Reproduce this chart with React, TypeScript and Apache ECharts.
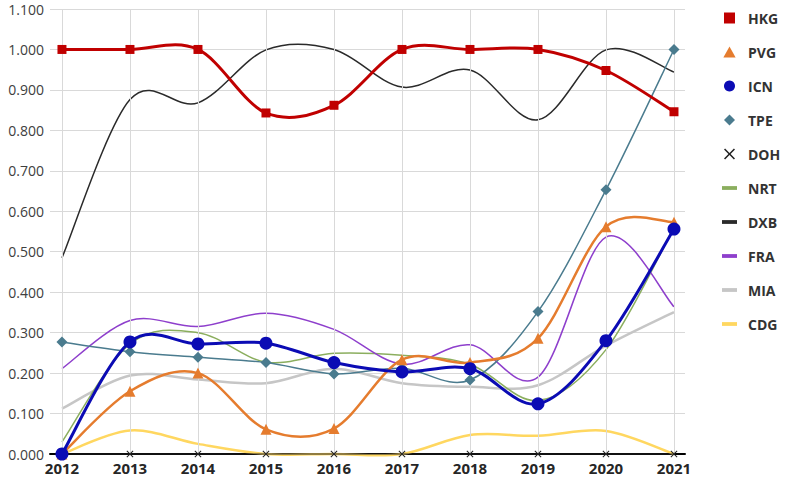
import React, { useEffect, useRef } from "react";
import * as echarts from "echarts";

const years = [2012, 2013, 2014, 2015, 2016, 2017, 2018, 2019, 2020, 2021];
const yTicks = [0, 0.1, 0.2, 0.3, 0.4, 0.5, 0.6, 0.7, 0.8, 0.9, 1.0, 1.1];

const HKG = [1.0, 1.0, 1.0, 0.843, 0.862, 1.0, 1.0, 1.0, 0.948, 0.846];
const PVG = [0.0, 0.155, 0.2, 0.061, 0.063, 0.233, 0.226, 0.286, 0.562, 0.573];
const ICN = [0.0, 0.277, 0.272, 0.274, 0.226, 0.203, 0.211, 0.124, 0.28, 0.556];
const TPE = [0.277, 0.253, 0.239, 0.226, 0.198, 0.212, 0.183, 0.352, 0.653, 1.0];
const DOH = [0, 0, 0, 0, 0, 0, 0, 0, 0, 0];
const NRT = [0.03, 0.272, 0.3, 0.227, 0.249, 0.244, 0.222, 0.132, 0.258, 0.56];
const DXB = [0.485, 0.876, 0.868, 0.999, 1.0, 0.907, 0.949, 0.826, 0.999, 0.944];
const FRA = [0.211, 0.33, 0.315, 0.348, 0.308, 0.222, 0.27, 0.19, 0.536, 0.364];
const MIA = [0.112, 0.194, 0.184, 0.175, 0.211, 0.175, 0.166, 0.17, 0.268, 0.351];
const CDG = [0.0, 0.058, 0.025, 0.0, 0.0, 0.0, 0.047, 0.045, 0.057, 0.0];

const names = ["HKG", "PVG", "ICN", "TPE", "DOH", "NRT", "DXB", "FRA", "MIA", "CDG"];
const values = [HKG, PVG, ICN, TPE, DOH, NRT, DXB, FRA, MIA, CDG];

const X_PATH = "path://M1,0L5,4L9,0L10,1L6,5L10,9L9,10L5,6L1,10L0,9L4,5L0,1Z";
const LINE_ICON = "path://M0,0H15V3.8H0Z";

const styles: Record<string, any> = {
  HKG: { color: "#C00000", width: 3, symbol: "rect", size: 9, icon: "path://M0,0H10V10H0Z", z: 8 },
  PVG: { color: "#E57C2E", width: 2.5, symbol: "triangle", size: 11, icon: "path://M5,0L10,9L0,9Z", z: 6 },
  ICN: { color: "#0B0BB4", width: 3, symbol: "circle", size: 13, icon: "circle", z: 7 },
  TPE: { color: "#4A7B8E", width: 1.5, symbol: "diamond", size: 11, icon: "path://M5,0L10,5L5,10L0,5Z", z: 5 },
  DOH: { color: "#222222", width: 1.2, symbol: X_PATH, size: 7, icon: X_PATH, z: 4 },
  NRT: { color: "#8BAE5E", width: 1.5, symbol: "none", size: 0, icon: LINE_ICON, z: 3 },
  DXB: { color: "#2A2A2A", width: 1.5, symbol: "none", size: 0, icon: LINE_ICON, z: 3 },
  FRA: { color: "#8E3FCC", width: 1.5, symbol: "none", size: 0, icon: LINE_ICON, z: 3 },
  MIA: { color: "#C6C6C6", width: 2.5, symbol: "none", size: 0, icon: LINE_ICON, z: 2 },
  CDG: { color: "#FFD760", width: 2.5, symbol: "none", size: 0, icon: LINE_ICON, z: 2 },
};

// Catmull-Rom spline through pixel points (Excel-like smoothing)
function splinePath(pts: number[][]): string {
  let d = `M${pts[0][0]},${pts[0][1]}`;
  for (let i = 0; i < pts.length - 1; i++) {
    const p0 = pts[i - 1] || pts[i];
    const p1 = pts[i];
    const p2 = pts[i + 1];
    const p3 = pts[i + 2] || pts[i + 1];
    const c1x = p1[0] + (p2[0] - p0[0]) / 6;
    const c1y = p1[1] + (p2[1] - p0[1]) / 6;
    const c2x = p2[0] - (p3[0] - p1[0]) / 6;
    const c2y = p2[1] - (p3[1] - p1[1]) / 6;
    d += ` C${c1x},${c1y} ${c2x},${c2y} ${p2[0]},${p2[1]}`;
  }
  return d;
}

export default function App() {
  const ref = useRef<HTMLDivElement>(null);

  useEffect(() => {
    document.body.style.margin = "0";
    if (!ref.current) return;
    const chart = echarts.init(ref.current, undefined, { renderer: "svg" });

    const series: any[] = [];
    names.forEach((n, idx) => {
      const s = styles[n];
      const vals = values[idx];
      // smooth curve
      series.push({
        name: n,
        type: "custom",
        coordinateSystem: "cartesian2d",
        z: s.z,
        silent: true,
        clip: false,
        data: [[years[0], vals[0]]],
        renderItem: (_params: any, api: any) => {
          const pts = years.map((y, i) => api.coord([y, vals[i]]));
          return {
            type: "path",
            shape: { pathData: splinePath(pts) },
            style: { stroke: s.color, lineWidth: s.width, fill: "none" },
          };
        },
      });
      // markers
      if (s.symbol !== "none") {
        series.push({
          name: n,
          type: "line",
          z: s.z + 10,
          data: years.map((y, i) => [y, vals[i]]),
          symbol: s.symbol,
          symbolSize: s.size,
          showAllSymbol: true,
          lineStyle: { width: 0, opacity: 0 },
          itemStyle: { color: s.color },
          emphasis: { disabled: true },
        });
      }
    });

    series.push({
      name: "grid-x",
      type: "line",
      data: [],
      z: 1,
      silent: true,
      markLine: {
        silent: true,
        symbol: "none",
        animation: false,
        label: { show: false },
        lineStyle: { color: "#D9D9D9", width: 1, type: "solid" },
        data: years.map((y) => ({ xAxis: y })),
      },
    });

    chart.setOption({
      animation: false,
      backgroundColor: "#FFFFFF",
      grid: { left: 50, right: 105, top: 9, bottom: 26 },
      legend: {
        orient: "vertical",
        left: 717,
        top: 6,
        itemWidth: 15,
        itemHeight: 11,
        itemGap: 20,
        symbolKeepAspect: true,
        selectedMode: false,
        data: names.map((n) => ({
          name: n,
          icon: styles[n].icon,
          itemStyle: { color: styles[n].color },
        })),
        textStyle: {
          fontFamily: "Open Sans",
          fontWeight: "bold",
          fontSize: 14,
          lineHeight: 14,
          color: "#333333",
          padding: [0, 0, 0, 6],
        },
      },
      xAxis: {
        type: "value",
        min: 2011.824,
        max: 2021.162,
        axisLine: { show: true, lineStyle: { color: "#000000", width: 2 } },
        axisTick: { show: false },
        splitLine: { show: false },
        axisLabel: {
          customValues: years,
          formatter: (v: number) => String(Math.round(v)),
          fontFamily: "Open Sans",
          fontWeight: "bold",
          fontSize: 15,
          color: "#262626",
          margin: 6,
        },
      },
      yAxis: {
        type: "value",
        min: 0,
        max: 1.1,
        interval: 0.1,
        axisLine: { show: false },
        axisTick: { show: false },
        splitLine: { show: true, lineStyle: { color: "#D9D9D9", width: 1 } },
        axisLabel: {
          customValues: yTicks,
          formatter: (v: number) => v.toFixed(3),
          fontFamily: "Open Sans",
          fontSize: 14,
          color: "#404040",
          margin: 6,
        },
      },
      series,
    });

    return () => chart.dispose();
  }, []);

  return (
    <div
      ref={ref}
      style={{ position: "fixed", left: 0, top: 0, width: 790, height: 480 }}
    />
  );
}
